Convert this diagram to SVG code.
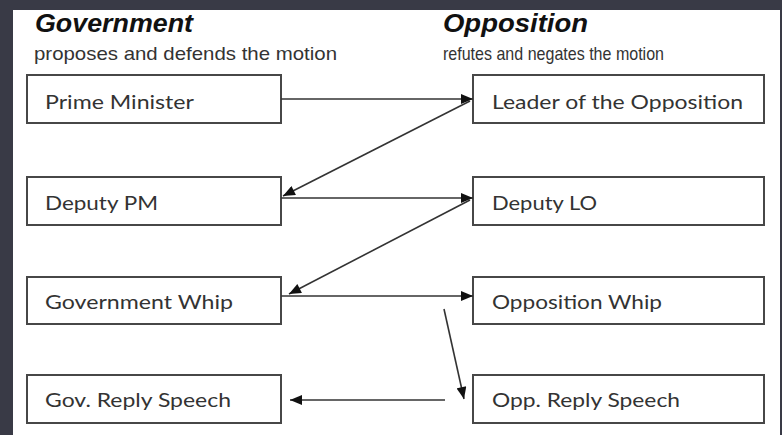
<svg xmlns="http://www.w3.org/2000/svg" width="782" height="435" viewBox="0 0 782 435">
<defs>
<style>
.bg{fill:#393a46}
.box rect{fill:#fff;stroke:#474747;stroke-width:2}
.box text{font-family:Lato,"Open Sans","Liberation Sans",sans-serif;font-size:20px;fill:#333}
.hd{font-family:"Liberation Sans",Arial,sans-serif;font-weight:bold;font-style:italic;font-size:25px;fill:#111}
.sub{font-family:"Liberation Sans",Arial,sans-serif;font-size:19px;fill:#333}
.conn line{stroke:#333;stroke-width:1.6;fill:none;marker-end:url(#ah)}
</style>
<marker id="ah" viewBox="0 0 12 10" refX="12" refY="5" markerWidth="13" markerHeight="10" orient="auto" markerUnits="userSpaceOnUse">
<path d="M0,0 L12,5 L0,10 Z" fill="#111"/>
</marker>
</defs>
<rect class="bg" x="0" y="0" width="782" height="435"/>
<rect x="13" y="10" width="767" height="425" fill="#fff"/>
<g id="header-gov">
<text class="hd" x="35" y="32" textLength="158" lengthAdjust="spacingAndGlyphs">Government</text>
<text class="sub" x="34" y="60" textLength="303" lengthAdjust="spacingAndGlyphs">proposes and defends the motion</text>
</g>
<g id="header-opp">
<text class="hd" x="443" y="32" textLength="145" lengthAdjust="spacingAndGlyphs">Opposition</text>
<text class="sub" x="443" y="60" font-size="17" textLength="221" lengthAdjust="spacingAndGlyphs">refutes and negates the motion</text>
</g>
<g id="pm" class="box"><rect x="27" y="75" width="254" height="48"/><text x="45" y="109" textLength="149" lengthAdjust="spacingAndGlyphs">Prime Minister</text></g>
<g id="dpm" class="box"><rect x="27" y="177" width="254" height="48"/><text x="45" y="210" textLength="113" lengthAdjust="spacingAndGlyphs">Deputy PM</text></g>
<g id="gw" class="box"><rect x="27" y="277" width="254" height="47"/><text x="45" y="309" textLength="188" lengthAdjust="spacingAndGlyphs">Government Whip</text></g>
<g id="gr" class="box"><rect x="27" y="375" width="254" height="48"/><text x="45" y="407" textLength="186" lengthAdjust="spacingAndGlyphs">Gov. Reply Speech</text></g>
<g id="lo" class="box"><rect x="473" y="75" width="291" height="48"/><text x="492" y="109" textLength="251" lengthAdjust="spacingAndGlyphs">Leader of the Opposition</text></g>
<g id="dlo" class="box"><rect x="473" y="177" width="291" height="48"/><text x="492" y="210" textLength="105" lengthAdjust="spacingAndGlyphs">Deputy LO</text></g>
<g id="ow" class="box"><rect x="473" y="277" width="291" height="47"/><text x="492" y="309" textLength="170" lengthAdjust="spacingAndGlyphs">Opposition Whip</text></g>
<g id="or" class="box"><rect x="473" y="375" width="291" height="48"/><text x="492" y="407" textLength="188" lengthAdjust="spacingAndGlyphs">Opp. Reply Speech</text></g>
<g id="connectors" class="conn">
<line x1="281" y1="99" x2="473" y2="99"/>
<line x1="470" y1="101" x2="283" y2="196"/>
<line x1="281" y1="198" x2="473" y2="198"/>
<line x1="470" y1="200" x2="289" y2="294"/>
<line x1="281" y1="296" x2="473" y2="296"/>
<line x1="444" y1="309" x2="464" y2="399"/>
<line x1="445" y1="400" x2="290" y2="400"/>
</g>
</svg>
